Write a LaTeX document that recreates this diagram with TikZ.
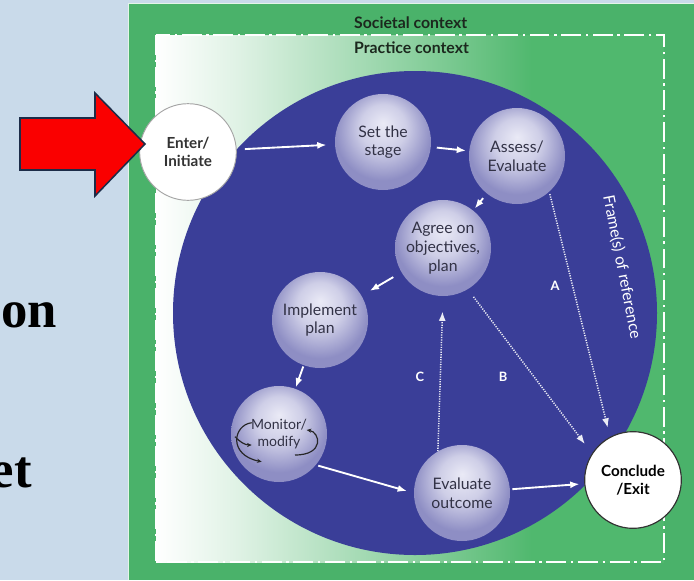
\documentclass[tikz,border=0pt]{standalone}
\usepackage{fontspec}
\setmainfont{Lato}
\newfontfamily\slidefont{Liberation Serif}
\usetikzlibrary{arrows.meta}

\definecolor{slideblue}{RGB}{201,218,234}
\definecolor{framegreen}{RGB}{74,178,106}
\definecolor{ctxgreen}{RGB}{80,184,110}
\definecolor{ctxtext}{RGB}{28,40,30}
\definecolor{circblue}{RGB}{58,62,152}
\definecolor{lavtop}{RGB}{234,234,246}
\definecolor{lavbot}{RGB}{142,142,196}
\definecolor{nodetext}{RGB}{50,50,70}
\definecolor{arrowred}{RGB}{250,0,0}
\definecolor{arrownavy}{RGB}{28,44,72}

% white on the left, green on the right
\pgfdeclarehorizontalshading{ctxshade}{100bp}{color(0bp)=(white); color(25bp)=(white);
  color(33bp)=(ctxgreen!18!white); color(50bp)=(ctxgreen!65!white);
  color(62bp)=(ctxgreen); color(100bp)=(ctxgreen)}
% light top, darker bottom
\pgfdeclareradialshading{lavball}{\pgfpoint{0bp}{10bp}}{color(0bp)=(lavtop);
  color(12bp)=(lavtop!70!lavbot); color(25bp)=(lavbot); color(50bp)=(lavbot)}

\begin{document}
\begin{tikzpicture}[x=0.03cm, y=-0.03cm,
    stage/.style={circle, shade, shading=lavball, minimum size=2.88cm, inner sep=0pt,
      align=center, text=nodetext, font=\fontsize{13.5}{16}\selectfont},
    endpoint/.style={circle, fill=white, minimum size=2.9cm, inner sep=0pt,
      align=center, font=\fontsize{13}{15.5}\selectfont\bfseries},
    flow/.style={draw=white, line width=1.6pt, -{Latex[length=8pt,width=6pt]}},
    jump/.style={draw=white!90!circblue, line width=1.3pt, dash pattern=on 1pt off 1.1pt,
      -{Latex[length=8pt,width=6pt]}},
    pathlbl/.style={text=white, font=\fontsize{11}{13}\selectfont\bfseries},
    cyc/.style={draw=black!85, line width=1pt, -{Stealth[length=4pt,width=3.5pt]}}]
    \useasboundingbox (0,0) rectangle (694,580);
    \fill[slideblue] (0,0) rectangle (694,580);

    % Slide text cut off on the left
    \node[anchor=base east, inner xsep=0pt, font=\slidefont\bfseries\fontsize{45}{50}\selectfont] (slidetxta) at (57,327) {on};
    \node[anchor=base east, inner xsep=0pt, font=\slidefont\bfseries\fontsize{45}{50}\selectfont] (slidetxtb) at (32,487) {et};

    % Societal context
    \fill[framegreen] (128,3) rectangle (694,580);
    \draw[white!85!framegreen, line width=0.8pt] (128,580) -- (128,3) -- (694,3);
    \node[anchor=west, text=ctxtext, font=\fontsize{13.5}{15}\selectfont\bfseries] (societal) at (350,23) {Societal context};

    % Practice context
    \shade[shading=ctxshade] (156,35) rectangle (664,562);
    \draw[white, line width=1.6pt, dash pattern=on 17pt off 4pt on 2pt off 4pt] (156,35) rectangle (664,562);
    \node[anchor=west, text=ctxtext, font=\fontsize{13.5}{15}\selectfont\bfseries] (practice) at (350,48) {Practice context};

    % Frame(s) of reference
    \fill[circblue] (415,313) circle (242);
    \node[text=white, rotate=-79, font=\fontsize{13.5}{15}\selectfont] (frames) at (622,267) {Frame(s) of reference};

    % Steps
    \node[endpoint, draw=gray!70, line width=0.8pt, text=black!80] (enter) at (188,152) {Enter/\\Initiate};
    \node[stage] (setstage) at (383,142) {Set the\\stage};
    \node[stage] (assess) at (517,156) {Assess/\\Evaluate};
    \node[stage] (agree) at (443,248) {Agree on\\objectives,\\plan};
    \node[stage] (implement) at (320,320) {Implement\\plan};
    \node[stage, font=\fontsize{12}{14.5}\selectfont] (monitor) at (279,434) {Monitor/\\modify};
    \node[stage] (evaluate) at (462,493) {Evaluate\\outcome};
    \node[endpoint, draw=black!80, line width=1pt] (conclude) at (633,480) {Conclude\\/Exit};

    % Loop marks round Monitor/modify
    \begin{scope}[shift={(monitor.center)}]
      \draw[cyc] (-27.3,-11.3) .. controls (-46,-9) and (-51,21) .. (-17.3,27.7);
      \draw[cyc] (-44,2.7) .. controls (-39,8) and (-34,11) .. (-27.3,11);
      \draw[cyc] (16,21) .. controls (46,21) and (41,-2) .. (27.7,-4);
    \end{scope}

    % Main path
    \draw[flow, shorten <=7pt, shorten >=7pt] (enter) -- (setstage);
    \draw[flow, shorten <=5pt, shorten >=2.5pt] (setstage) -- (assess);
    \draw[flow, shorten <=5pt, shorten >=2pt] (assess) -- (agree);
    \draw[flow, shorten <=8pt, shorten >=8pt] (agree) -- (implement);
    \draw[flow, shorten <=1pt, shorten >=1pt] (implement) -- (monitor);
    \draw[flow, shorten <=2pt, shorten >=6pt] (monitor.-40) -- (evaluate.west);
    \draw[flow, shorten <=2pt, shorten >=4pt] (evaluate) -- (conclude);

    % Short cuts A, B, C
    \draw[jump, shorten <=2pt, shorten >=8pt] (assess.-48) -- (conclude.118);
    \draw[jump, shorten <=8pt, shorten >=10pt] (agree.-59) -- (conclude.147);
    \draw[jump, shorten >=13pt] (evaluate.120) -- (agree.south);
    \node[pathlbl] (lblA) at (555,286) {A};
    \node[pathlbl] (lblB) at (503,377) {B};
    \node[pathlbl] (lblC) at (420,377) {C};

    % Red pointer
    \draw[fill=arrowred, draw=arrownavy, line width=1.3pt]
      (20,118) -- (95,118) -- (95,93) -- (145,144) -- (95,196) -- (95,170) -- (20,170) -- cycle;
\end{tikzpicture}
\end{document}
